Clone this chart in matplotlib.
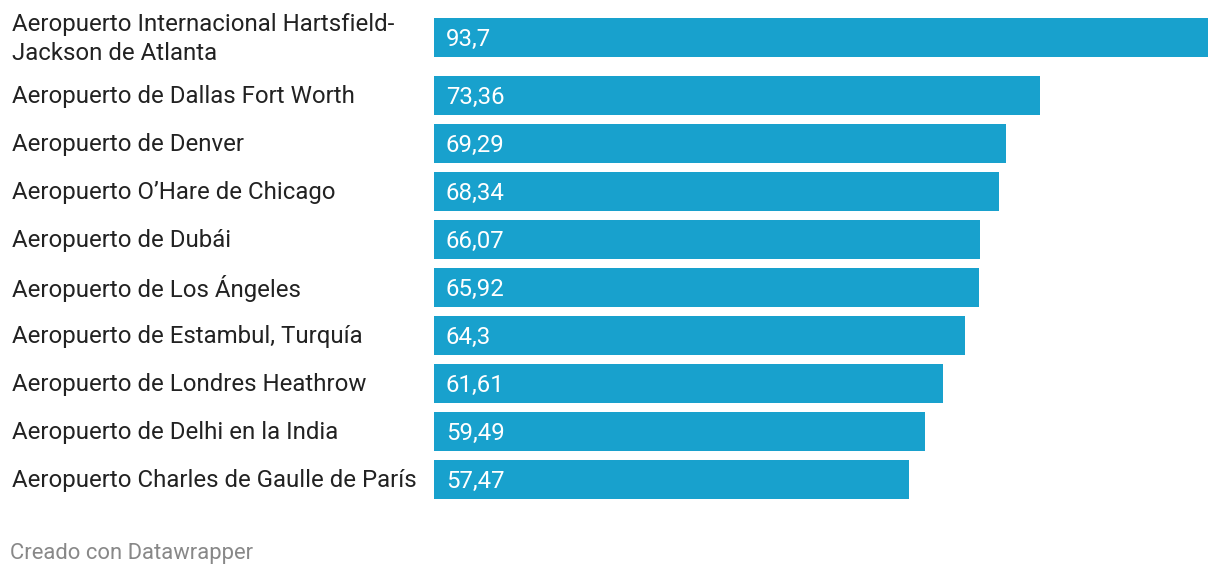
import matplotlib.pyplot as plt

plt.rcParams['font.family'] = ['Roboto', 'DejaVu Sans']

aeropuertos = [
    "Aeropuerto Internacional Hartsfield-\nJackson de Atlanta",
    "Aeropuerto de Dallas Fort Worth",
    "Aeropuerto de Denver",
    "Aeropuerto O\u2019Hare de Chicago",
    "Aeropuerto de Dub\u00e1i",
    "Aeropuerto de Los \u00c1ngeles",
    "Aeropuerto de Estambul, Turqu\u00eda",
    "Aeropuerto de Londres Heathrow",
    "Aeropuerto de Delhi en la India",
    "Aeropuerto Charles de Gaulle de Par\u00eds",
]
pasajeros = [93.7, 73.36, 69.29, 68.34, 66.07, 65.92, 64.3, 61.61, 59.49, 57.47]
etiquetas = ["93,7", "73,36", "69,29", "68,34", "66,07", "65,92", "64,3", "61,61", "59,49", "57,47"]

W, H = 1220, 576
fig = plt.figure(figsize=(W / 100, H / 100), dpi=100)
ax = fig.add_axes([0, 0, 1, 1])

# escala en pixeles: 0 -> x=434, max -> x=1208
x0, x1 = 434, 1208
k = (x1 - x0) / max(pasajeros)
ax.set_xlim(-x0 / k, (W - x0) / k)
ax.set_ylim(H, 0)
ax.axis('off')

# alturas de fila (la primera tiene dos lineas)
centros = []
y = 37.5
for i, nombre in enumerate(aeropuertos):
    centros.append(y)
    y += 58 if i == 0 else 48

color = '#18a1cd'
ax.barh(centros, pasajeros, height=39, left=0, color=color)

for c, nombre, v, lab in zip(centros, aeropuertos, pasajeros, etiquetas):
    ax.text(-422 / k, c + 1.5, nombre, ha='left', va='center', fontsize=17.3,
            color='#222222', linespacing=1.3)
    ax.text(12 / k, c + 1.5, lab, ha='left', va='center', fontsize=17.3, color='white')

fig.text(10 / W, 1 - 553 / H, "Creado con Datawrapper", ha='left', va='center',
         fontsize=15.8, color='#888888')

fig.savefig('out.png', dpi=100)
